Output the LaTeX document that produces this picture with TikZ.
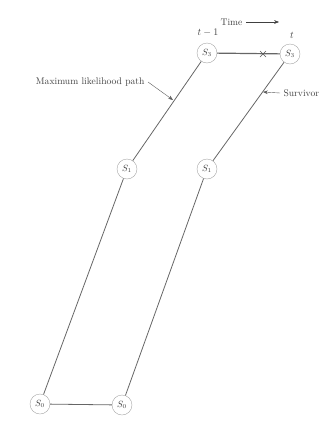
\documentclass[tikz,border=0pt]{standalone}
\usetikzlibrary{arrows.meta,positioning,calc}
\tikzset{
  trel/.style={x=1pt,y=-1pt,>=Stealth,
    every node/.style={text=black!75},
    lbl/.style={font=\fontsize{9.6}{11}\selectfont},
    st/.style={circle,draw=black!35,fill=white,thin,minimum size=20pt,inner sep=0pt,font=\small},
    pth/.style={draw=black!60,line width=0.8pt}},
}
\begin{document}
\begin{tikzpicture}[trel]
  \useasboundingbox (0,0) rectangle (326,421);
  \node[st] (a3) at (207,53) {$S_3$};
  \node[st] (b3) at (290,54) {$S_3$};
  \node[st] (a1) at (127,169) {$S_1$};
  \node[st] (b1) at (207,169) {$S_1$};
  \node[st] (a0) at (40,404) {$S_0$};
  \node[st] (b0) at (122,405) {$S_0$};
  \path[pth] (a0) -- (a1) -- (a3)
        (a0) -- (b0) -- (b1) -- (b3);
  \path[pth,line width=1.2pt] (a3) -- (b3);
  % discarded branch
  \coordinate (xm) at (263,54);
  \draw[black!65,thin] ($(xm)+(-3,-3)$) -- ($(xm)+(3,3)$)
                       ($(xm)+(-3,3)$) -- ($(xm)+(3,-3)$);
  \node[lbl] (tm1) at (208,33) {$t-1$};
  \node[lbl] (tt) at (292,35) {$t$};
  \node[lbl,anchor=east] (time) at (246,22) {Time};
  \coordinate (te) at (279,22);
  \draw[->,black!75] (time) -- (te);
  \node[lbl,anchor=east] (mlp) at (148,82) {Maximum likelihood path};
  \coordinate (mlpe) at (173,100);
  \draw[->,black!65,thin] (mlp.east) -- (mlpe);
  \node[lbl,anchor=west] (sur) at (280,93) {Survivor};
  \coordinate (sure) at (263,92);
  \draw[->,black!65,thin] (sur.west) -- (sure);
\end{tikzpicture}
\end{document}
